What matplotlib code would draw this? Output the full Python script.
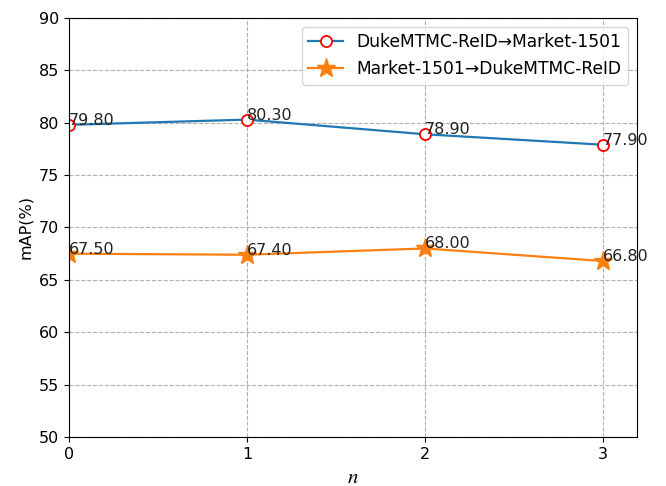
import matplotlib
matplotlib.use("Agg")
import matplotlib.pyplot as plt

plt.rcParams["mathtext.fontset"] = "stix"

n_values = [0, 1, 2, 3]
duke_to_market = [79.80, 80.30, 78.90, 77.90]
market_to_duke = [67.50, 67.40, 68.00, 66.80]
label_a = "DukeMTMC-ReID→Market-1501"
label_b = "Market-1501→DukeMTMC-ReID"

fig = plt.figure(figsize=(6.66, 4.86), dpi=100)
ax = fig.add_axes([0.1036, 0.1008, 0.8524, 0.8622])

ax.plot(n_values, duke_to_market, color="#1f77b4", marker="o", markersize=8,
        markerfacecolor="white", markeredgecolor="red", markeredgewidth=1.3,
        linewidth=1.6, label=label_a)
ax.plot(n_values, market_to_duke, color="#ff7f0e", marker="*", markersize=14,
        linewidth=1.6, label=label_b)

for x, y in zip(n_values, duke_to_market):
    ax.text(x, y, f"{y:.2f}", fontsize=11.5, color="#222222")
for x, y in zip(n_values, market_to_duke):
    ax.text(x, y, f"{y:.2f}", fontsize=11.5, color="#222222")

ax.set_xlim(0, 3.19)
ax.set_ylim(50, 90)
ax.set_xticks([0, 1, 2, 3])
ax.set_yticks(range(50, 91, 5))
ax.tick_params(labelsize=11.5)
ax.grid(True, linestyle="--", color="#b0b0b0")
ax.set_xlabel("$n$", fontsize=15)
ax.set_ylabel("mAP(%)", fontsize=11.5)
ax.legend(loc="upper right", fontsize=12.3)

fig.savefig("out.png", dpi=100)
